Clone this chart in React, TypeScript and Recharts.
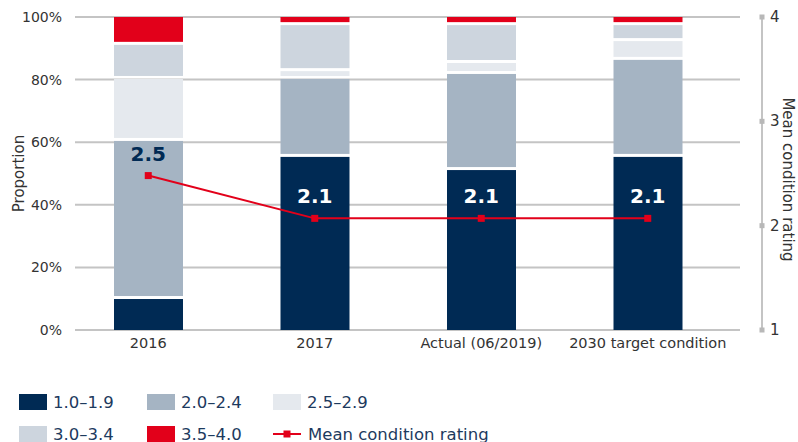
import React from 'react';
import {
  ComposedChart,
  Bar,
  Line,
  XAxis,
  YAxis,
  CartesianGrid,
  LabelList,
} from 'recharts';

// categories and shares (%) per condition band
const categories = ['2016', '2017', 'Actual (06/2019)', '2030 target condition'];
const band10to19 = [9.9, 55.3, 51.1, 55.3];
const band20to24 = [50.5, 24.9, 30.7, 31.0];
const band25to29 = [19.8, 2.5, 3.5, 6.0];
const band30to34 = [10.9, 14.7, 12.1, 5.1];
const band35to40 = [8.9, 2.6, 2.6, 2.6];
const meanRating = [2.48, 2.07, 2.07, 2.07];

const leftTicks = [0, 20, 40, 60, 80, 100];
const rightTicks = [1, 2, 3, 4];

const series = [
  { key: 'b1', name: '1.0–1.9', color: '#002a54' },
  { key: 'b2', name: '2.0–2.4', color: '#a5b4c3' },
  { key: 'b3', name: '2.5–2.9', color: '#e5e9ee' },
  { key: 'b4', name: '3.0–3.4', color: '#cdd5de' },
  { key: 'b5', name: '3.5–4.0', color: '#e2001a' },
];

const data = categories.map((name, i) => ({
  name,
  b1: band10to19[i],
  b2: band20to24[i],
  b3: band25to29[i],
  b4: band30to34[i],
  b5: band35to40[i],
  mean: meanRating[i],
}));

const FONT = '"DejaVu Sans", Verdana, sans-serif';
const RED = '#e2001a';
const NAVY = '#002a54';
const GRID = '#c4c4c4';

const gapShape = (first: boolean) => (p: any) => {
  const h = first ? p.height : Math.max(p.height - 3, 0);
  return <rect x={p.x} y={p.y} width={p.width} height={h} fill={p.fill} />;
};

const RightTick = (p: any) => (
  <g>
    <rect x={p.x - 10.5} y={p.y - 2.5} width={5} height={5} fill="#b8b8b8" />
    <text x={p.x} y={p.y} dy={5} fontSize={15} fontFamily={FONT} fill="#333">
      {p.payload.value}
    </text>
  </g>
);

const MeanLabel = (p: any) => (
  <text
    x={p.x}
    y={p.y - 15}
    textAnchor="middle"
    fontSize={20}
    fontWeight={700}
    fontFamily={FONT}
    fill={p.index === 0 ? NAVY : '#fff'}
  >
    {Number(p.value).toFixed(1)}
  </text>
);

function LegendRow() {
  const items = [
    ...series.map((s) => ({ name: s.name, color: s.color, line: false })),
    { name: 'Mean condition rating', color: RED, line: true },
  ];
  return (
    <div
      style={{
        position: 'absolute',
        left: 19,
        top: 394,
        display: 'grid',
        gridTemplateColumns: '128px 126px 240px',
        rowGap: 16,
        fontFamily: FONT,
        fontSize: 16.5,
        color: '#1d3a5e',
      }}
    >
      {items.map((it) => (
        <div key={it.name} style={{ display: 'flex', alignItems: 'center', height: 16 }}>
          {it.line ? (
            <svg width={28} height={16} style={{ marginRight: 7 }}>
              <line x1={0} y1={8} x2={28} y2={8} stroke={RED} strokeWidth={2} />
              <rect x={10.5} y={4.5} width={7} height={7} fill={RED} />
            </svg>
          ) : (
            <span
              style={{ width: 28, height: 16, background: it.color, marginRight: 6, display: 'inline-block' }}
            />
          )}
          <span style={{ whiteSpace: 'nowrap' }}>{it.name}</span>
        </div>
      ))}
    </div>
  );
}

export default function App() {
  return (
    <div
      style={{
        position: 'fixed',
        left: 0,
        top: 0,
        width: 798,
        height: 442,
        background: '#fff',
        overflow: 'hidden',
      }}
    >
      <ComposedChart
        width={798}
        height={360}
        data={data}
        margin={{ top: 17, right: 0, bottom: 0, left: 5 }}
      >
        <CartesianGrid
          yAxisId="left"
          vertical={false}
          horizontal={(g: any) => (
            <line
              key={g.key}
              x1={g.x1 + 10}
              y1={g.y1}
              x2={g.x2 - 22}
              y2={g.y2}
              stroke={GRID}
              strokeWidth={2}
            />
          )}
        />
        <XAxis
          dataKey="name"
          axisLine={false}
          tickLine={false}
          padding={{ left: 0, right: 31 }}
          height={30}
          tick={{ fontSize: 14.5, fill: '#333', fontFamily: FONT }}
          interval={0}
        />
        <YAxis
          yAxisId="left"
          domain={[0, 100]}
          ticks={leftTicks}
          tickFormatter={(v) => `${v}%`}
          axisLine={false}
          tickLine={false}
          tickSize={3}
          tickMargin={0}
          width={60}
          tick={{ fontSize: 14, fill: '#333', fontFamily: FONT }}
          label={{
            content: (lp: any) => (
              <text
                x={19}
                y={lp.viewBox.y + lp.viewBox.height / 2}
                transform={`rotate(-90 19 ${lp.viewBox.y + lp.viewBox.height / 2})`}
                textAnchor="middle"
                dominantBaseline="central"
                fontSize={15}
                fontFamily={FONT}
                fill="#333"
              >
                Proportion
              </text>
            ),
          }}
        />
        <YAxis
          yAxisId="right"
          orientation="right"
          domain={[1, 4]}
          ticks={rightTicks}
          width={36}
          axisLine={{ stroke: GRID, strokeWidth: 2 }}
          tickLine={false}
          tick={<RightTick />}
          label={{
            content: (lp: any) => {
              const cx = lp.viewBox.x + 26;
              const cy = lp.viewBox.y + lp.viewBox.height / 2 + 6;
              return (
                <text
                  x={cx}
                  y={cy}
                  transform={`rotate(90 ${cx} ${cy})`}
                  textAnchor="middle"
                  dominantBaseline="central"
                  fontSize={15}
                  fontFamily={FONT}
                  fill="#333"
                >
                  Mean condition rating
                </text>
              );
            },
          }}
        />
        {series.map((s, i) => (
          <Bar
            key={s.key}
            yAxisId="left"
            dataKey={s.key}
            name={s.name}
            stackId="a"
            fill={s.color}
            barSize={69}
            shape={gapShape(i === 0)}
            isAnimationActive={false}
          />
        ))}
        <Line
          yAxisId="right"
          dataKey="mean"
          name="Mean condition rating"
          stroke={RED}
          strokeWidth={2}
          type="linear"
          dot={(p: any) => (
            <rect key={p.index} x={p.cx - 3.5} y={p.cy - 3.5} width={7} height={7} fill={RED} />
          )}
          activeDot={false}
          isAnimationActive={false}
        >
          <LabelList dataKey="mean" content={<MeanLabel />} />
        </Line>
      </ComposedChart>
      <LegendRow />
    </div>
  );
}
